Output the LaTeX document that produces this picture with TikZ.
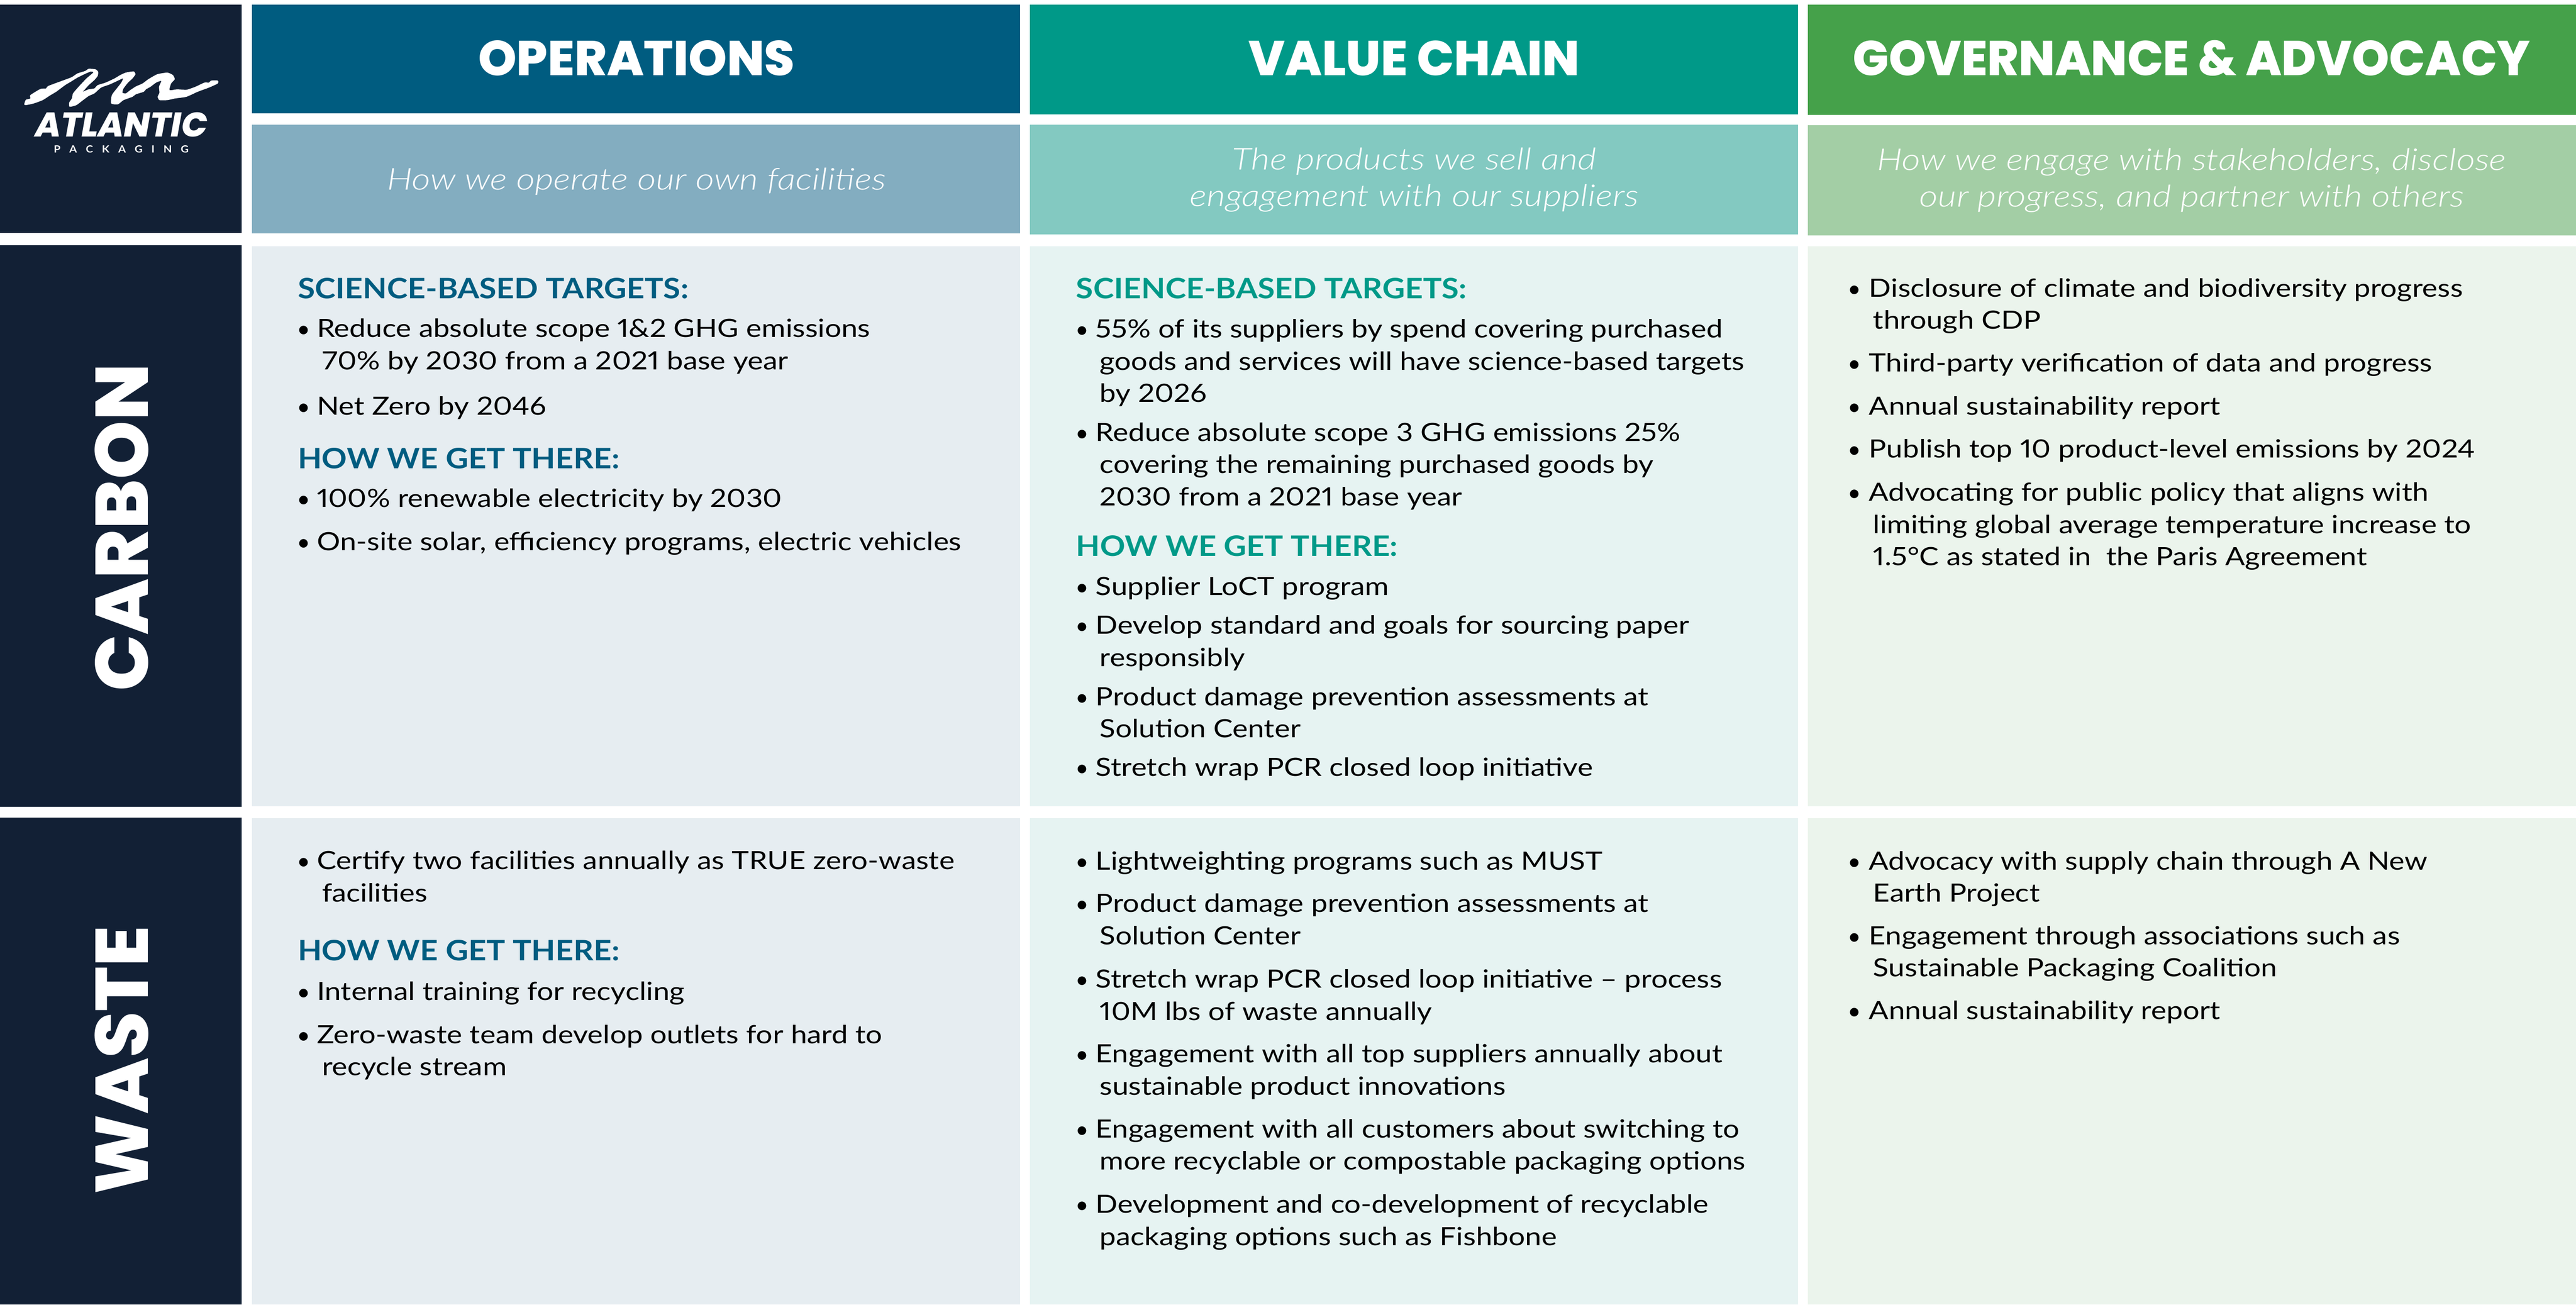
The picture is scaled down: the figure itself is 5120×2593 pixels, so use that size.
\documentclass[tikz,border=0pt]{standalone}
\usepackage{fontspec}
\setmainfont{Lato}[FakeStretch=1.16,Numbers=Proportional,BoldFeatures={FakeStretch=1.11}]
\newfontfamily\plainf{Lato}
\newfontfamily\lightf{Lato Light}[ItalicFont={Lato Light Italic},ItalicFeatures={FakeStretch=1.2}]
\newfontfamily\headf{Poppins ExtraBold}
\definecolor{navy}{HTML}{122035}
\definecolor{opdark}{HTML}{005C80}
\definecolor{opmid}{HTML}{83ADC0}
\definecolor{oppale}{HTML}{E6EDF1}
\definecolor{vcdark}{HTML}{009988}
\definecolor{vcmid}{HTML}{83C9C1}
\definecolor{vcpale}{HTML}{E6F3F2}
\definecolor{gadark}{HTML}{45A14A}
\definecolor{gamid}{HTML}{A3CEA5}
\definecolor{gapale}{HTML}{EBF4EC}
\newcounter{tl}
\newcommand{\bodyf}{\fontsize{12.5}{15}\selectfont}
\tikzset{
  panel/.style={anchor=north west,inner sep=0pt,outer sep=0pt},
  bodyline/.style={anchor=base west,inner sep=0pt,outer sep=0pt,text=black,font=\bodyf},
  dotline/.style={anchor=base,inner sep=0pt,outer sep=0pt,text=black,font=\fontsize{11.5}{15}\selectfont\plainf},
  headline/.style={anchor=base west,inner sep=0pt,outer sep=0pt,font=\fontsize{14}{16}\selectfont\bfseries},
  coltitle/.style={anchor=base,inner sep=0pt,outer sep=0pt,text=white,font=\fontsize{24.3}{28}\selectfont\headf},
  subtitle/.style={anchor=base,inner sep=0pt,outer sep=0pt,text=white,font=\fontsize{15}{18}\selectfont\lightf\itshape},
  rowtitle/.style={anchor=base,rotate=90,inner sep=0pt,outer sep=0pt,text=white,font=\fontsize{37}{40}\selectfont\headf},
}
\newcommand{\rectn}[6]{\node[panel,fill=#1,minimum width={(#4-#2)*0.25pt},minimum height={(#5-#3)*0.25pt}] (#6) at (#2,#3) {};}
\newcommand{\itm}[2]{\stepcounter{tl}\node[dotline] (d\arabic{tl}) at (\bx,#1) {•};\node[bodyline] (t\arabic{tl}) at (\tx,#1) {#2};}
\newcommand{\cnt}[2]{\stepcounter{tl}\node[bodyline] (t\arabic{tl}) at (\cx,#1) {#2};}
\newcommand{\hdg}[2]{\stepcounter{tl}\node[headline,text=\hc] (t\arabic{tl}) at (\hx,#1) {#2};}
\begin{document}
\begin{tikzpicture}[x=0.25pt,y=-0.25pt]
\useasboundingbox (0,0) rectangle (5120,2593);
\fill[white] (0,0) rectangle (5120,2593);
% left column
\rectn{navy}{0}{9}{480}{463}{logobox}
\rectn{navy}{0}{487}{480}{1604}{carbonbox}
\rectn{navy}{0}{1625}{480}{2593}{wastebox}
% headers
\rectn{opdark}{501}{9}{2028}{225}{ophead}
\rectn{opmid}{501}{248}{2028}{464}{opsub}
\rectn{oppale}{501}{489}{2028}{1603}{opcarbon}
\rectn{oppale}{501}{1626}{2028}{2593}{opwaste}
\rectn{vcdark}{2047}{9}{3574}{227}{vchead}
\rectn{vcmid}{2047}{248}{3574}{466}{vcsub}
\rectn{vcpale}{2047}{489}{3574}{1603}{vccarbon}
\rectn{vcpale}{2047}{1626}{3574}{2593}{vcwaste}
\rectn{gadark}{3593}{9}{5120}{228}{gahead}
\rectn{gamid}{3593}{249}{5120}{468}{gasub}
\rectn{gapale}{3593}{489}{5120}{1603}{gacarbon}
\rectn{gapale}{3593}{1626}{5120}{2593}{gawaste}
% logo
\begin{scope}[xscale=0.4464,yscale=0.3317]
\fill[white] plot[smooth cycle,tension=0.35] coordinates {
(108,625)(115,598)(135,590)(135,570)(180,533)(205,530)(215,515)(285,480)(320,462)(345,440)(380,425)(395,412)(425,415)(437,430)(435,455)(420,480)(395,510)(375,540)(368,550)(395,535)(420,530)(435,510)(470,495)(510,470)(535,450)(560,435)(595,428)(603,445)(590,470)(570,495)(550,530)(545,555)(560,560)(580,540)(605,518)(635,500)(660,475)(700,445)(745,435)(770,450)(778,475)(762,500)(755,540)(790,535)(830,538)(870,520)(910,495)(930,495)(940,483)(970,483)(970,500)(930,525)(880,550)(830,580)(780,590)(745,600)(710,600)(702,580)(710,555)(708,520)(718,485)(695,495)(670,520)(650,535)(640,550)(605,565)(590,580)(550,600)(525,625)(495,620)(498,570)(520,530)(540,495)(548,470)(530,480)(490,505)(450,525)(420,560)(395,575)(365,605)(340,630)(310,640)(308,615)(320,590)(325,560)(350,520)(385,470)(415,435)(405,428)(375,445)(345,465)(315,490)(290,510)(250,550)(225,570)(190,600)(150,620)(115,630)};
\end{scope}
\node[anchor=base,inner sep=0pt,text=white,font=\fontsize{17}{20}\selectfont\headf\itshape] (logoname) at (241,272) {ATLANTIC};
\node[anchor=base,inner sep=0pt,text=white,font=\fontsize{4.9}{6}\selectfont\bfseries] (logosub) at (241,303.5) {\hbox to 67pt{P\hfil A\hfil C\hfil K\hfil A\hfil G\hfil I\hfil N\hfil G}};
% titles
\node[coltitle] (t-op) at (1265,150) {OPERATIONS};
\node[coltitle] (t-vc) at (2811,150) {VALUE CHAIN};
\node[coltitle] (t-ga) at (4356,150) {\scalebox{0.97}[1]{GOVERNANCE \& ADVOCACY}};
\node[subtitle] (s-op) at (1265,377.5) {How we operate our own facilities};
\node[subtitle] (s-vc1) at (2811,337) {The products we sell and};
\node[subtitle] (s-vc2) at (2811,410) {engagement with our suppliers};
\node[subtitle] (s-ga1) at (4356,338) {How we engage with stakeholders, disclose};
\node[subtitle] (s-ga2) at (4356,411) {our progress, and partner with others};
\node[rowtitle] (r-carbon) at (294,1048.5) {CARBON};
\node[rowtitle] (r-waste) at (294,2107) {WASTE};
% column 1
\def\bx{604}\def\tx{630}\def\cx{640}\def\hx{592}\def\hc{opdark}
\hdg{593}{SCIENCE-BASED TARGETS:}
\itm{670}{Reduce absolute scope 1\&2 GHG emissions}
\cnt{734.5}{70\% by 2030 from a 2021 base year}
\itm{825}{Net Zero by 2046}
\hdg{931}{HOW WE GET THERE:}
\itm{1008}{100\% renewable electricity by 2030}
\itm{1094}{On-site solar, efficiency programs, electric vehicles}
\itm{1728}{Certify two facilities annually as TRUE zero-waste}
\cnt{1792}{facilities}
\hdg{1909}{HOW WE GET THERE:}
\itm{1988}{Internal training for recycling}
\itm{2074}{Zero-waste team develop outlets for hard to}
\cnt{2138}{recycle stream}
% column 2
\def\bx{2151}\def\tx{2178}\def\cx{2186}\def\hx{2139}\def\hc{vcdark}
\hdg{593}{SCIENCE-BASED TARGETS:}
\itm{671.6}{55\% of its suppliers by spend covering purchased}
\cnt{736}{goods and services will have science-based targets}
\cnt{799.5}{by 2026}
\itm{876.6}{Reduce absolute scope 3 GHG emissions 25\%}
\cnt{940.6}{covering the remaining purchased goods by}
\cnt{1005}{2030 from a 2021 base year}
\hdg{1105.6}{HOW WE GET THERE:}
\itm{1183}{Supplier LoCT program}
\itm{1260.5}{Develop standard and goals for sourcing paper}
\cnt{1324.5}{responsibly}
\itm{1402}{Product damage prevention assessments at}
\cnt{1466}{Solution Center}
\itm{1542.6}{Stretch wrap PCR closed loop initiative}
\itm{1728.6}{Lightweighting programs such as MUST}
\itm{1813.4}{Product damage prevention assessments at}
\cnt{1877}{Solution Center}
\itm{1963}{Stretch wrap PCR closed loop initiative – process}
\cnt{2027.5}{10M lbs of waste annually}
\itm{2111.7}{Engagement with all top suppliers annually about}
\cnt{2176}{sustainable product innovations}
\itm{2261}{Engagement with all customers about switching to}
\cnt{2325}{more recyclable or compostable packaging options}
\itm{2410.6}{Development and co-development of recyclable}
\cnt{2475}{packaging options such as Fishbone}
% column 3
\def\bx{3685.6}\def\tx{3715}\def\cx{3723}
\itm{590}{Disclosure of climate and biodiversity progress}
\cnt{654}{through CDP}
\itm{739}{Third-party verification of data and progress}
\itm{825}{Annual sustainability report}
\itm{910}{Publish top 10 product-level emissions by 2024}
\itm{996}{Advocating for public policy that aligns with}
\cnt{1060}{limiting global average temperature increase to}
\cnt{1124}{1.5°C as stated in\ \ the Paris Agreement}
\itm{1728.6}{Advocacy with supply chain through A New}
\cnt{1792}{Earth Project}
\itm{1877}{Engagement through associations such as}
\cnt{1941}{Sustainable Packaging Coalition}
\itm{2026}{Annual sustainability report}
\end{tikzpicture}
\end{document}
